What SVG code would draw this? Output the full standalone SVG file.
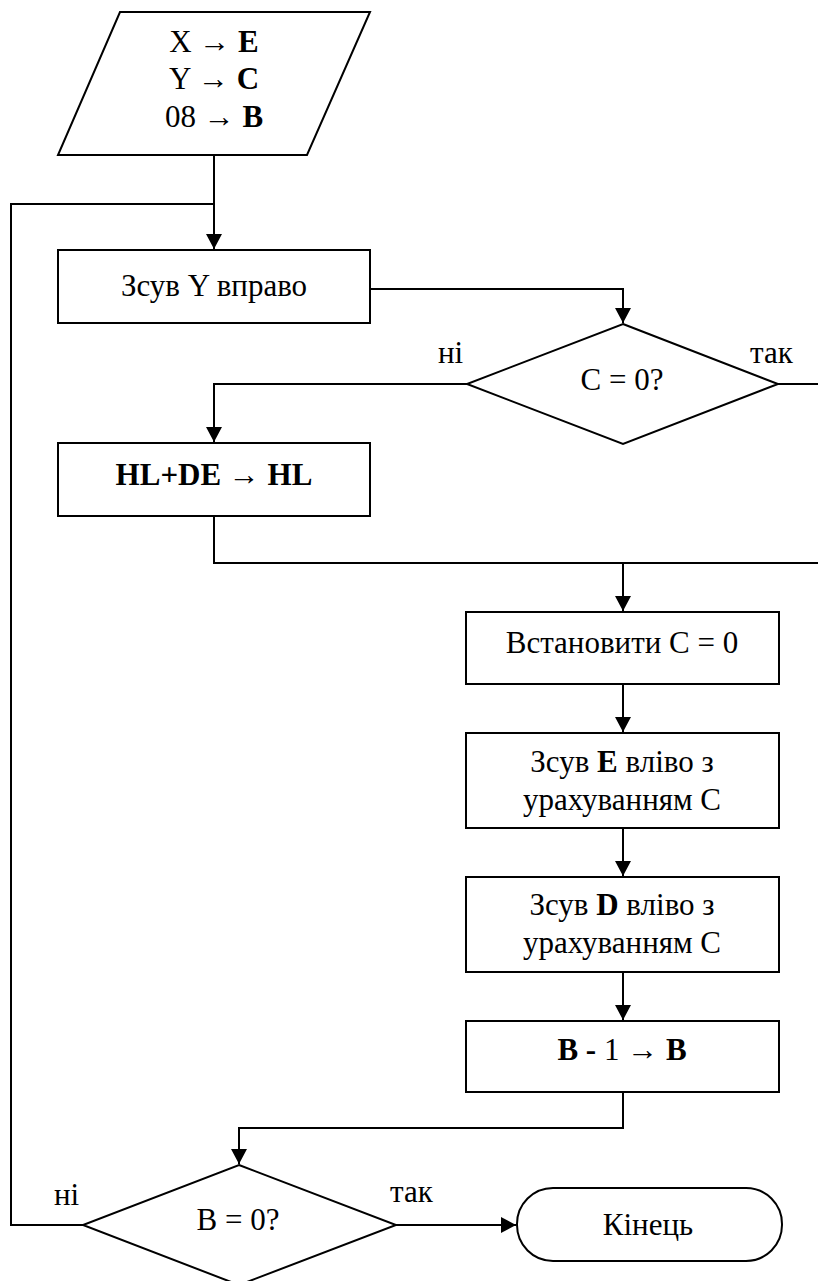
<svg xmlns="http://www.w3.org/2000/svg" width="818" height="1281" viewBox="0 0 818 1281">
<style>
.s{fill:#fff;stroke:#000;stroke-width:2}
.c{fill:none;stroke:#000;stroke-width:2}
text{font-family:'Liberation Serif','Tinos','DejaVu Serif',serif;font-size:31px;fill:#000}
.t{text-anchor:middle}
.b{font-weight:bold}
</style>
<defs>
<marker id="a" markerUnits="userSpaceOnUse" markerWidth="16" markerHeight="16" viewBox="0 0 16 16" refX="15" refY="8" orient="auto">
<path d="M0,0 L15,8 L0,16 Z" fill="#000"/>
</marker>
</defs>
<g id="connectors">
<path class="c" d="M214,155 V249" marker-end="url(#a)"/>
<path class="c" d="M214,204 H11 V1225 H83"/>
<path class="c" d="M370,289 H623 V323" marker-end="url(#a)"/>
<path class="c" d="M467,384 H214 V442" marker-end="url(#a)"/>
<path class="c" d="M778,384 H820 V563"/>
<path class="c" d="M214,516 V563 H820"/>
<path class="c" d="M623,563 V611" marker-end="url(#a)"/>
<path class="c" d="M623,684 V732" marker-end="url(#a)"/>
<path class="c" d="M623,828 V876" marker-end="url(#a)"/>
<path class="c" d="M623,972 V1020" marker-end="url(#a)"/>
<path class="c" d="M623,1092 V1128 H239 V1164" marker-end="url(#a)"/>
<path class="c" d="M396,1225 H516" marker-end="url(#a)"/>
<text x="438" y="363" font-family="Liberation Serif, serif">ні</text>
<text x="750" y="363" font-family="Liberation Serif, serif">так</text>
<text x="54" y="1205" font-family="Liberation Serif, serif">ні</text>
<text x="390" y="1202" font-family="Liberation Serif, serif">так</text>
</g>
<g id="input">
<polygon class="s" points="120,12 370,12 307,155 58,155"/>
<text class="t" x="214" y="52">X → <tspan class="b">E</tspan></text>
<text class="t" x="214" y="89">Y → <tspan class="b">C</tspan></text>
<text class="t" x="214" y="127">08 → <tspan class="b">B</tspan></text>
</g>
<g id="shiftY">
<rect class="s" x="58" y="250" width="312" height="73"/>
<text class="t" x="214" y="296">Зсув Y вправо</text>
</g>
<g id="condC">
<polygon class="s" points="623,324 778,384 623,444 467,384"/>
<text class="t" x="622" y="390">C = 0?</text>
</g>
<g id="add">
<rect class="s" x="58" y="443" width="312" height="73"/>
<text class="t b" x="214" y="485">HL+DE → HL</text>
</g>
<g id="setC">
<rect class="s" x="466" y="612" width="313" height="72"/>
<text class="t" x="622" y="653">Встановити C = 0</text>
</g>
<g id="shiftE">
<rect class="s" x="466" y="733" width="313" height="95"/>
<text class="t" x="622" y="772">Зсув <tspan class="b">E</tspan> вліво з</text>
<text class="t" x="622" y="810">урахуванням C</text>
</g>
<g id="shiftD">
<rect class="s" x="466" y="877" width="313" height="95"/>
<text class="t" x="622" y="915">Зсув <tspan class="b">D</tspan> вліво з</text>
<text class="t" x="622" y="953">урахуванням C</text>
</g>
<g id="decB">
<rect class="s" x="466" y="1021" width="313" height="71"/>
<text class="t" x="622" y="1060"><tspan class="b">B -</tspan> 1 → <tspan class="b">B</tspan></text>
</g>
<g id="condB">
<polygon class="s" points="239,1165 396,1225 239,1285 83,1225"/>
<text class="t" x="238" y="1230">B = 0?</text>
</g>
<g id="end">
<rect class="s" x="517" y="1188" width="265" height="73" rx="36" ry="36"/>
<text class="t" x="648" y="1235">Кінець</text>
</g>
</svg>
